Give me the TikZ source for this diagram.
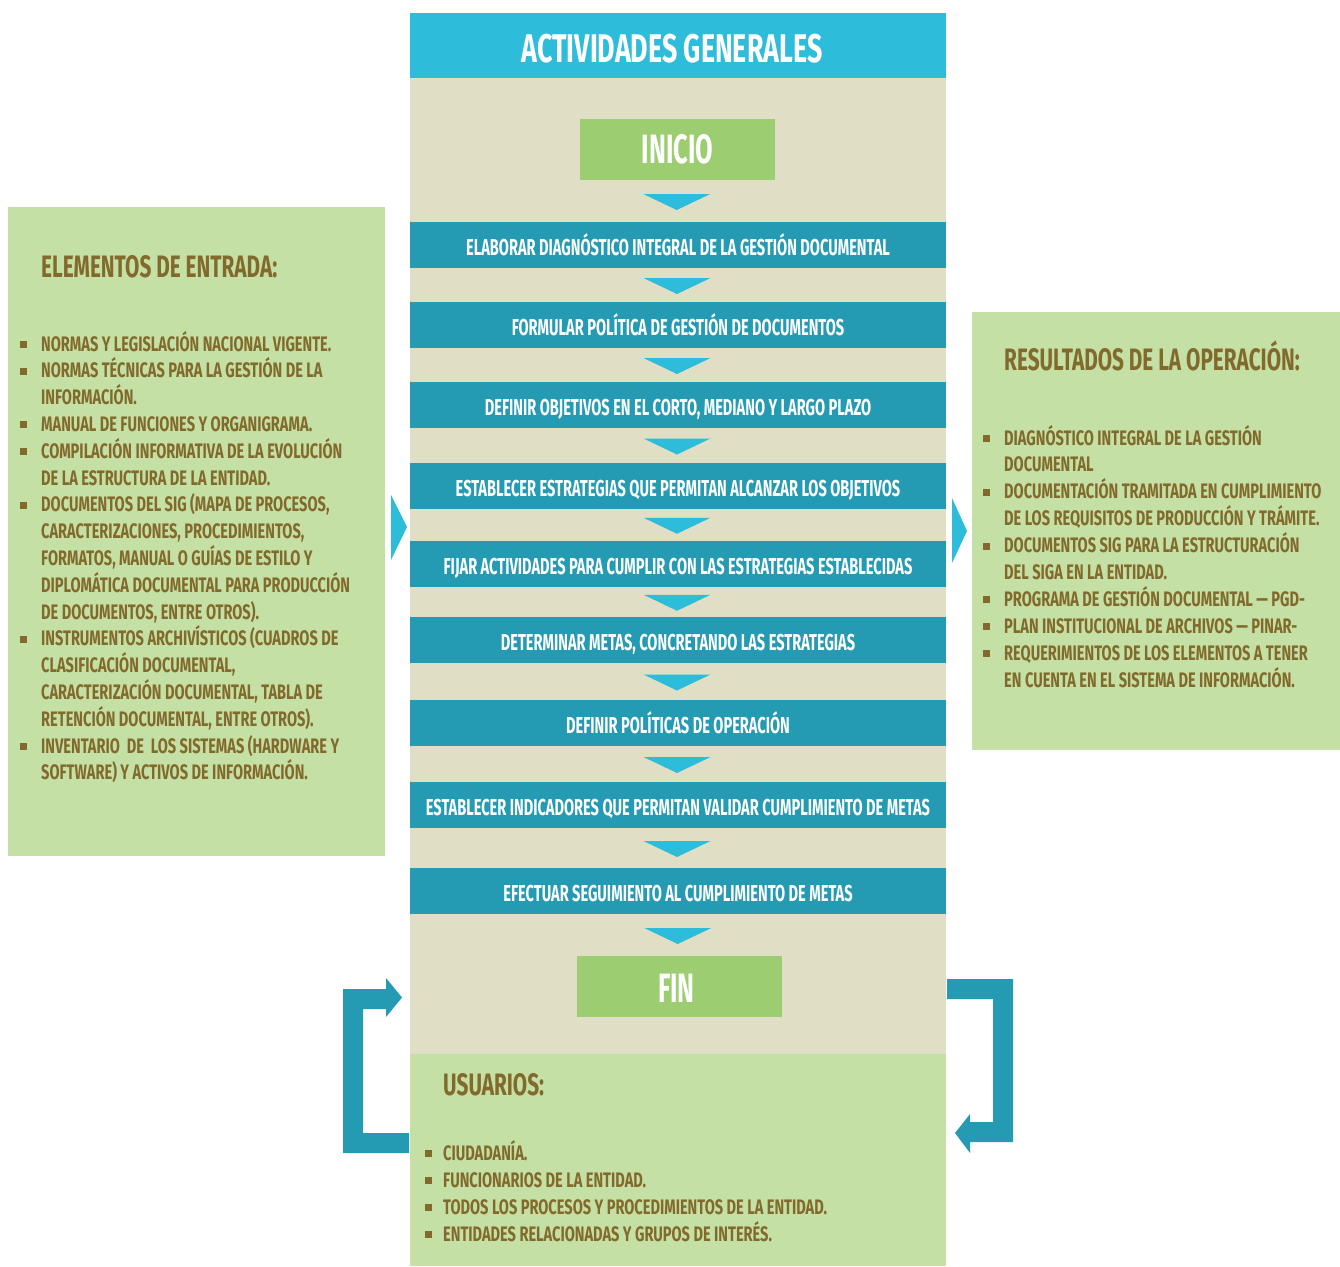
\documentclass[tikz,border=0pt]{standalone}
\usepackage{fontspec}
\usetikzlibrary{calc}
\newfontfamily\bebasbig{Fira Sans}[FakeStretch=0.62]
\newfontfamily\bebas{Fira Sans}[FakeStretch=0.67]
\newfontfamily\bebass{Fira Sans}[FakeStretch=0.635]
\newfontfamily\bebasi{Fira Sans}[FakeStretch=0.695]
\definecolor{hdr}{HTML}{2DBCD9}
\definecolor{stepc}{HTML}{249BB3}
\definecolor{beige}{HTML}{E0DFC5}
\definecolor{lgreen}{HTML}{C5E0A5}
\definecolor{mgreen}{HTML}{9CCE71}
\definecolor{olive}{HTML}{826A2C}
% square bullet hanging to the left of the item text
\newcommand\bul[1]{\leavevmode\llap{\raisebox{3pt}{\textcolor{olive}{\rule{7pt}{7pt}}}\hspace{#1}}}
\begin{document}
\begin{tikzpicture}[x=1pt,y=-1pt,
  bar/.style={fill=stepc, text=white, minimum width=536pt, minimum height=46pt,
    inner sep=0pt, text height=21pt, text depth=0pt,
    font=\bebass\bfseries\fontsize{23}{23}\selectfont},
  startend/.style={fill=mgreen, text=white, inner sep=0pt, minimum height=61pt,
    text height=28pt, text depth=0pt, font=\bebasbig\bfseries\fontsize{41}{41}\selectfont},
  boxtitle/.style={anchor=base west, inner sep=0pt, text=olive,
    font=\bebas\bfseries\fontsize{31}{31}\selectfont},
  listtext/.style={anchor=base west, inner sep=0pt, text=olive},
  flowtip/.style={fill=hdr},
  loop/.style={fill=stepc}]
\useasboundingbox (0,0) rectangle (1340,1266);

% panels
\fill[lgreen] (8,207) rectangle (385,856);
\fill[lgreen] (972,312) rectangle (1340,750);
\fill[beige] (410,78) rectangle (946,1054);
\fill[lgreen] (410,1054) rectangle (946,1266);

% header
\node[fill=hdr, minimum width=536pt, minimum height=65pt, inner sep=0pt,
  text=white, text height=34pt, text depth=0pt,
  font=\bebas\bfseries\fontsize{40}{40}\selectfont] (hdr) at (678,45.5) {\hspace*{-12pt}ACTIVIDADES GENERALES};

% flow
\node[startend, minimum width=195pt] (ini) at (677.5,149.5) {INICIO};
\node[bar] (s1) at (678,245) {ELABORAR DIAGNÓSTICO INTEGRAL DE LA GESTIÓN DOCUMENTAL};
\node[bar] (s2) at (678,325) {FORMULAR POLÍTICA DE GESTIÓN DE DOCUMENTOS};
\node[bar] (s3) at (678,405) {DEFINIR OBJETIVOS EN EL CORTO, MEDIANO Y LARGO PLAZO};
\node[bar] (s4) at (678,486) {ESTABLECER ESTRATEGIAS QUE PERMITAN ALCANZAR LOS OBJETIVOS};
\node[bar] (s5) at (678,563.5) {FIJAR ACTIVIDADES PARA CUMPLIR CON LAS ESTRATEGIAS ESTABLECIDAS};
\node[bar] (s6) at (678,640) {DETERMINAR METAS, CONCRETANDO LAS ESTRATEGIAS};
\node[bar] (s7) at (678,723) {DEFINIR POLÍTICAS DE OPERACIÓN};
\node[bar] (s8) at (678,805) {ESTABLECER INDICADORES QUE PERMITAN VALIDAR CUMPLIMIENTO DE METAS};
\node[bar] (s9) at (678,891) {EFECTUAR SEGUIMIENTO AL CUMPLIMIENTO DE METAS};
\node[startend, minimum width=205pt, text height=31pt] (fin) at (679.5,986.5) {\hspace*{-6pt}FIN};

% downward triangles between consecutive steps
\foreach \a/\b in {ini/s1,s1/s2,s2/s3,s3/s4,s4/s5,s5/s6,s6/s7,s7/s8,s8/s9,s9/fin}{
  \fill[flowtip] ($(\a.south)!0.5!(\b.north)+(-1,1)$) +(-33.5,-8) -- +(33.5,-8) -- +(0,8) -- cycle;
}

% side chevrons
\fill[flowtip] (391,495) -- (407,527) -- (391,560) -- cycle;
\fill[flowtip] (952,498) -- (967,531) -- (952,563) -- cycle;

% input elements
\node[boxtitle] (intitle) at (41,277) {ELEMENTOS DE ENTRADA:};
\node[listtext] (inlist) at (41,351) {\parbox[t]{340pt}{\raggedright
  \bebasi\bfseries\fontsize{21}{26.8}\selectfont
  \bul{14pt}NORMAS Y LEGISLACIÓN NACIONAL VIGENTE.\\
  \bul{14pt}NORMAS TÉCNICAS PARA LA GESTIÓN DE LA\\
  INFORMACIÓN.\\
  \bul{14pt}MANUAL DE FUNCIONES Y ORGANIGRAMA.\\
  \bul{14pt}COMPILACIÓN INFORMATIVA DE LA EVOLUCIÓN\\
  DE LA ESTRUCTURA DE LA ENTIDAD.\\
  \bul{14pt}DOCUMENTOS DEL SIG (MAPA DE PROCESOS,\\
  CARACTERIZACIONES, PROCEDIMIENTOS,\\
  FORMATOS, MANUAL O GUÍAS DE ESTILO Y\\
  DIPLOMÁTICA DOCUMENTAL PARA PRODUCCIÓN\\
  DE DOCUMENTOS, ENTRE OTROS).\\
  \bul{14pt}INSTRUMENTOS ARCHIVÍSTICOS (CUADROS DE\\
  CLASIFICACIÓN DOCUMENTAL,\\
  CARACTERIZACIÓN DOCUMENTAL, TABLA DE\\
  RETENCIÓN DOCUMENTAL, ENTRE OTROS).\\
  \bul{14pt}INVENTARIO\ \ DE\ \ LOS SISTEMAS (HARDWARE Y\\
  SOFTWARE) Y ACTIVOS DE INFORMACIÓN.}};

% results
\node[boxtitle] (outtitle) at (1004,370) {RESULTADOS DE LA OPERACIÓN:};
\node[listtext] (outlist) at (1004,445) {\parbox[t]{336pt}{\raggedright
  \bebasi\bfseries\fontsize{21}{26.9}\selectfont
  \bul{14pt}DIAGNÓSTICO INTEGRAL DE LA GESTIÓN\\
  DOCUMENTAL\\
  \bul{14pt}DOCUMENTACIÓN TRAMITADA EN CUMPLIMIENTO\\
  DE LOS REQUISITOS DE PRODUCCIÓN Y TRÁMITE.\\
  \bul{14pt}DOCUMENTOS SIG PARA LA ESTRUCTURACIÓN\\
  DEL SIGA EN LA ENTIDAD.\\
  \bul{14pt}PROGRAMA DE GESTIÓN DOCUMENTAL — PGD-\\
  \bul{14pt}PLAN INSTITUCIONAL DE ARCHIVOS — PINAR-\\
  \bul{14pt}REQUERIMIENTOS DE LOS ELEMENTOS A TENER\\
  EN CUENTA EN EL SISTEMA DE INFORMACIÓN.}};

% users
\node[boxtitle] (usrtitle) at (443,1095) {USUARIOS:};
\node[listtext] (usrlist) at (443,1160) {\parbox[t]{480pt}{\raggedright
  \bebasi\bfseries\fontsize{21}{27}\selectfont
  \bul{11pt}CIUDADANÍA.\\
  \bul{11pt}FUNCIONARIOS DE LA ENTIDAD.\\
  \bul{11pt}TODOS LOS PROCESOS Y PROCEDIMIENTOS DE LA ENTIDAD.\\
  \bul{11pt}ENTIDADES RELACIONADAS Y GRUPOS DE INTERÉS.}};

% feedback loops around the users panel
\fill[loop] (409,1153) -- (343,1153) -- (343,989) -- (386,989) -- (386,978)
  -- (402,997.5) -- (386,1017) -- (386,1009) -- (363,1009) -- (363,1133)
  -- (409,1133) -- cycle;
\fill[loop] (947,979) -- (1013,979) -- (1013,1142) -- (970,1142) -- (970,1153)
  -- (955,1133) -- (970,1114) -- (970,1122) -- (993,1122) -- (993,999)
  -- (947,999) -- cycle;
\end{tikzpicture}
\end{document}
